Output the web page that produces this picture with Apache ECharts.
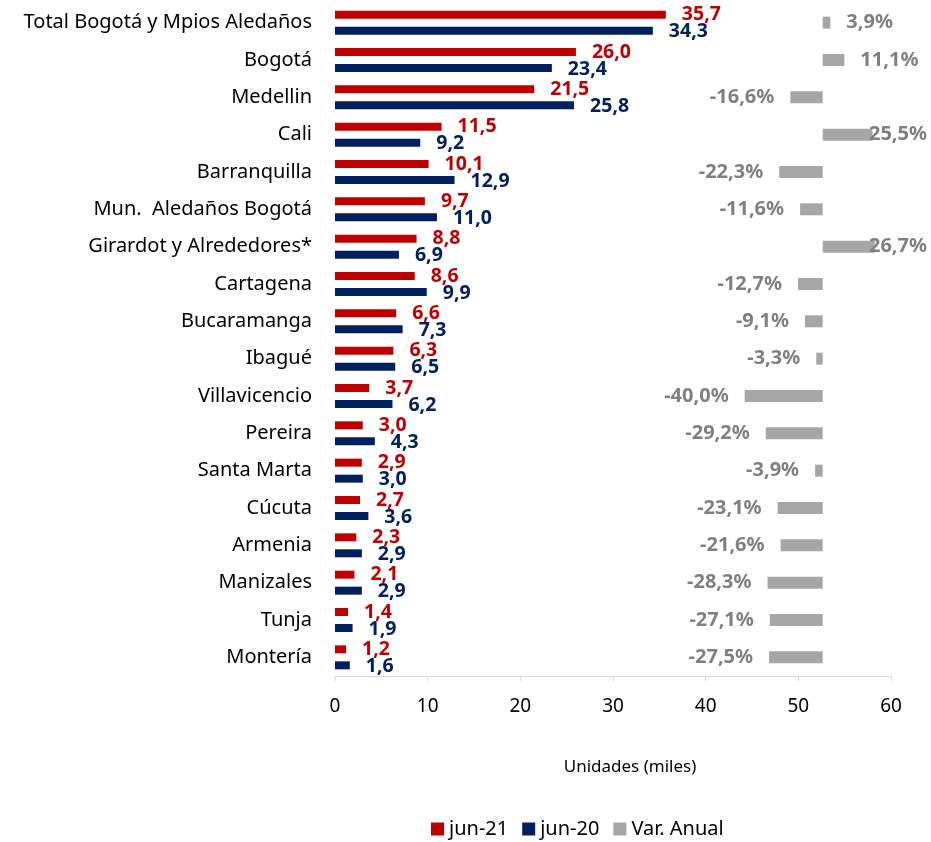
<!DOCTYPE html>
<html>
<head>
<meta charset="utf-8">
<script src="https://cdn.jsdelivr.net/npm/echarts@6/dist/echarts.min.js"></script>
<style>
  html, body { margin: 0; padding: 0; background: #fff; }
  #chart { width: 931px; height: 842px; }
</style>
</head>
<body>
<div id="chart"></div>
<script>
const cities = [
  'Total Bogotá y Mpios Aledaños', 'Bogotá', 'Medellin', 'Cali', 'Barranquilla',
  'Mun.  Aledaños Bogotá', 'Girardot y Alrededores*', 'Cartagena', 'Bucaramanga',
  'Ibagué', 'Villavicencio', 'Pereira', 'Santa Marta', 'Cúcuta', 'Armenia',
  'Manizales', 'Tunja', 'Montería'
]
const jun21 = [35.7, 26.0, 21.5, 11.5, 10.1, 9.7, 8.8, 8.6, 6.6, 6.3, 3.7, 3.0, 2.9, 2.7, 2.3, 2.1, 1.4, 1.2]
const jun20 = [34.3, 23.4, 25.8, 9.2, 12.9, 11.0, 6.9, 9.9, 7.3, 6.5, 6.2, 4.3, 3.0, 3.6, 2.9, 2.9, 1.9, 1.6]
const varAnual = [3.9, 11.1, -16.6, 25.5, -22.3, -11.6, 26.7, -12.7, -9.1, -3.3, -40.0, -29.2, -3.9, -23.1, -21.6, -28.3, -27.1, -27.5]

const FONT = '"Noto Sans", "Open Sans", sans-serif'
const fmt = v => v.toFixed(1).replace('.', ',')

const chart = echarts.init(document.getElementById('chart'))
const W = 931

chart.setOption({
  animation: false,
  textStyle: { fontFamily: FONT },
  grid: { left: 335, right: 40, top: 4, bottom: 166, containLabel: false },
  legend: {
    left: 431, top: 819, padding: 0,
    icon: 'rect',
    itemWidth: 13, itemHeight: 13, itemGap: 14,
    textStyle: { color: '#000', fontSize: 20, fontFamily: FONT },
    data: ['jun-21', 'jun-20', 'Var. Anual']
  },
  xAxis: [
    {
      type: 'value', min: 0, max: 60, interval: 10,
      name: 'Unidades (miles)', nameLocation: 'middle', nameGap: 83,
      nameTextStyle: { color: '#000', fontSize: 17, padding: [0, 0, 0, 34] },
      axisLine: { show: true, lineStyle: { color: '#d9d9d9' } },
      axisTick: { show: true, length: 5, lineStyle: { color: '#d9d9d9' } },
      axisLabel: { color: '#000', fontSize: 19, margin: 21 },
      splitLine: { show: false }
    },
    {
      type: 'value', min: -250, max: 35, show: false,
      splitLine: { show: false }
    }
  ],
  yAxis: [
    {
      type: 'category', data: cities, inverse: true,
      axisLine: { show: false }, axisTick: { show: false },
      axisLabel: { color: '#000', fontSize: 20, margin: 23 }
    },
    {
      type: 'category', data: cities, inverse: true, show: false
    }
  ],
  series: [
    {
      name: 'jun-21', type: 'bar', data: jun21,
      barWidth: 8, barGap: '100%',
      itemStyle: { color: '#C00000' },
      label: {
        show: true, position: 'right', distance: 16,
        color: '#C00000', fontWeight: 'bold', fontSize: 19.5,
        formatter: p => fmt(p.value)
      }
    },
    {
      name: 'jun-20', type: 'bar', data: jun20,
      barWidth: 8, barGap: '100%',
      itemStyle: { color: '#002060' },
      label: {
        show: true, position: 'right', distance: 16, offset: [0, 1],
        color: '#002060', fontWeight: 'bold', fontSize: 19.5,
        formatter: p => fmt(p.value)
      }
    },
    {
      name: 'Var. Anual', type: 'bar', xAxisIndex: 1, yAxisIndex: 1,
      data: varAnual.map(v => ({ value: v, label: { position: v < 0 ? 'left' : 'right' } })),
      barWidth: 12,
      itemStyle: { color: '#A6A6A6' },
      label: {
        show: true, distance: 16,
        color: '#7F7F7F', fontWeight: 'bold', fontSize: 20,
        formatter: p => fmt(p.value) + '%'
      },
      labelLayout: params => {
        const r = params.labelRect
        if (r.x + r.width > W - 4) {
          return { x: W - 4 - r.width, y: r.y + r.height / 2, align: 'left', verticalAlign: 'middle' }
        }
        return {}
      }
    }
  ]
})
</script>
</body>
</html>
